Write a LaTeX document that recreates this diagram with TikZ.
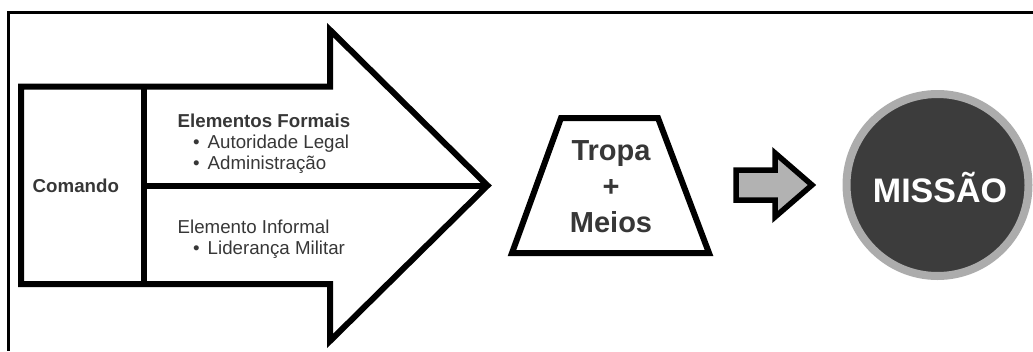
\documentclass[tikz,border=0pt]{standalone}
\usepackage{fontspec}
\setmainfont{Liberation Sans}
\definecolor{textgray}{RGB}{55,55,55}
\definecolor{arrowgray}{RGB}{178,178,178}
\definecolor{ringgray}{RGB}{172,172,172}
\definecolor{discdark}{RGB}{60,60,60}
\begin{document}
\begin{tikzpicture}[x=1pt,y=-1pt,
  frameline/.style={draw=black, line width=3pt},
  outline/.style={draw=black, line width=6pt, line join=miter},
  small/.style={text=textgray, inner sep=0pt, anchor=base west,
    font=\fontsize{18.7}{21}\selectfont},
  smallbold/.style={small, font=\fontsize{18.7}{21}\selectfont\bfseries},
  big/.style={text=textgray, inner sep=0pt, anchor=base,
    font=\fontsize{29}{36}\selectfont\bfseries}]
\useasboundingbox (0,0) rectangle (1033,351);

% open frame: top and left sides only
\coordinate (fTR) at (1033,12.5);
\coordinate (fTL) at (8.3,12.5);
\coordinate (fBL) at (8.3,351);
\draw[frameline] (fTR) -- (fTL) -- (fBL);

% big command arrow
\coordinate (aTL) at (21,86.7);
\coordinate (aSt) at (330,86.7);
\coordinate (aHt) at (330,30);
\coordinate (aTip) at (487.5,185.5);
\coordinate (aHb) at (330,341);
\coordinate (aSb) at (330,284);
\coordinate (aBL) at (21,284);
\draw[outline] (aTL) -- (aSt) -- (aHt) -- (aTip) -- (aHb) -- (aSb) -- (aBL) -- cycle;
\coordinate (dTop) at (143.5,86.7);
\coordinate (dBot) at (143.5,284);
\coordinate (dMid) at (143.5,185.5);
\draw[outline] (dTop) -- (dBot);
\draw[outline] (dMid) -- (aTip);

\node[smallbold] (comando) at (32.5,192) {Comando};
\node[smallbold] (formais) at (177.5,127) {Elementos Formais};
\node[small] (autor) at (193,148) {•\hspace{8pt}Autoridade Legal};
\node[small] (admin) at (193,169) {•\hspace{8pt}Administração};
\node[small] (informal) at (177.5,233) {Elemento Informal};
\node[small] (lider) at (193,254) {•\hspace{8pt}Liderança Militar};

% troop trapezium
\coordinate (tTL) at (561,118);
\coordinate (tTR) at (658,118);
\coordinate (tBR) at (709,253);
\coordinate (tBL) at (512,253);
\draw[outline] (tTL) -- (tTR) -- (tBR) -- (tBL) -- cycle;
\node[big] (tropa) at (611,160) {Tropa};
\node[big] (mais) at (611,196) {+};
\node[big] (meios) at (611,232) {Meios};

% small grey arrow
\coordinate (sTL) at (736,170);
\coordinate (sSt) at (775,170);
\coordinate (sHt) at (775,153);
\coordinate (sTip) at (812,185);
\coordinate (sHb) at (775,217);
\coordinate (sSb) at (775,200);
\coordinate (sBL) at (736,200);
\draw[outline, line width=5.5pt, fill=arrowgray]
  (sTL) -- (sSt) -- (sHt) -- (sTip) -- (sHb) -- (sSb) -- (sBL) -- cycle;

% mission disc
\node[circle, minimum size=182pt, inner sep=0pt, draw=ringgray,
  line width=8pt, fill=discdark] (disc) at (937.5,185) {};
\node[inner sep=0pt, anchor=base, text=white,
  font=\fontsize{34}{40}\selectfont\bfseries] (missao) at (940,202) {MISSÃO};
\end{tikzpicture}
\end{document}
